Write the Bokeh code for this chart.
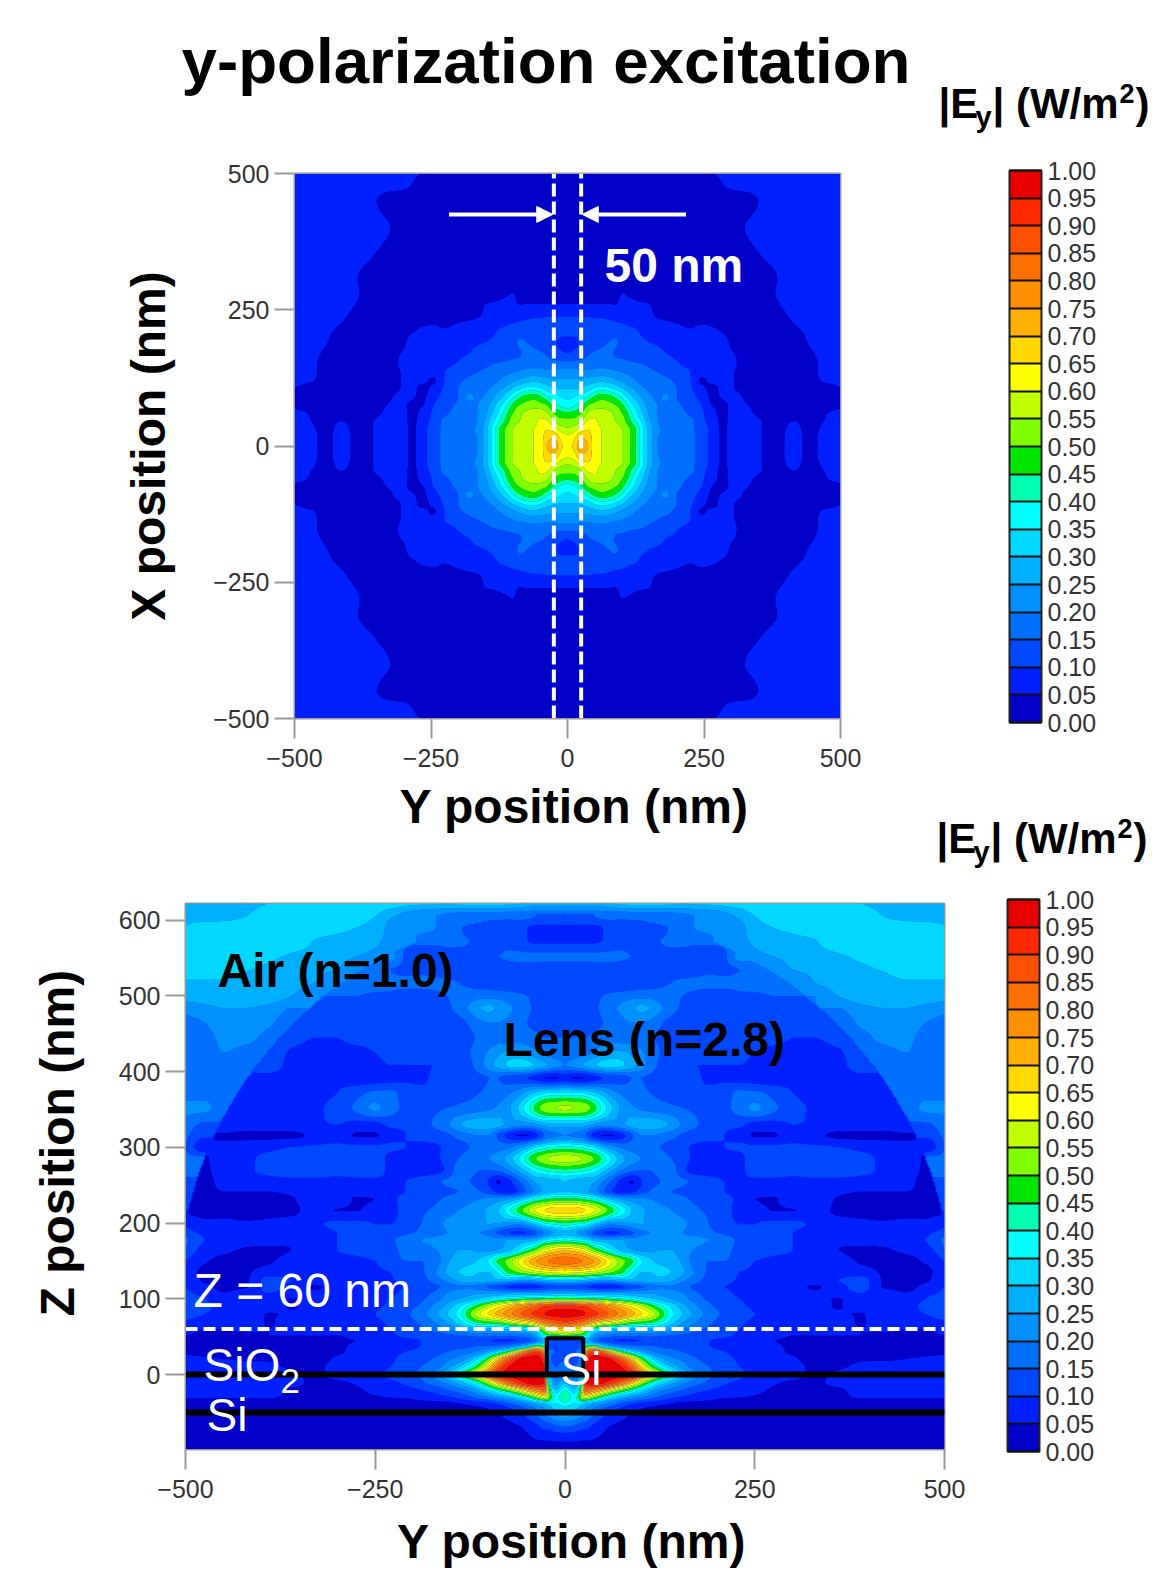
from bokeh.embed import file_html
from bokeh.resources import INLINE
from bokeh.plotting import figure
from bokeh.layouts import column
from bokeh.models import (Range1d, Label, ColorBar, LinearColorMapper, FixedTicker,
                          PrintfTickFormatter, Arrow, NormalHead)
import numpy as np

TITLE = "y-polarization excitation"
PALETTE = ["#0000C8", "#0020FF", "#0048FF", "#0070FF", "#0090FF", "#00B0FF", "#00D8FF", "#00FFFF",
           "#00FFB0", "#00E600", "#80FF00", "#C0FF00", "#FFFF00", "#FFD800", "#FFB000", "#FF9000",
           "#FF7000", "#FF5000", "#FF2800", "#E80000"]
LEVEL_TICKS = [i / 20 for i in range(21)]
XY_TICKS = [-500, -250, 0, 250, 500]
Z_TICKS = [-100, 0, 100, 200, 300, 400, 500, 600]
DOME_RADIUS = 510   # lens outline, nm
DOME_CENTRE_Z = 100

# Top map, one quadrant in percent of full scale; rows = |X| nm, columns = |Y| nm
TOP_Y = [0,12,25,38,50,62,75,88,100,112,125,138,150,165,180,200,225,245,265,285,305,330,355,385,415,440,470,500]
TOP_X = [0,15,30,45,60,75,90,105,120,135,150,170,190,215,240,260,280,310,350,400,450,475,500]
TOP_FIELD = [
[63,66,74,70,62,60,58,57,55,51,45,36,28,20,19,18,16,13,8,4,7,7,5,4,6.5,4,6,9],
[62,64,70,68,62,60,58,57,55,51,45,36,28,20,19,18,16,13,8,4,7,7,5,4,6.5,4,6,8.5],
[56,58,63,65,62,60,58,57,55,51,45,36,28,21,19,18,16,13,8,4,7,7,5,4,6,4,5.5,7],
[52,52,55,61,61,58,57,55,53,47,40,33,26,20,19,18,16,12,7,4,6.5,7,5,4,5,4,5,6],
[46,47,50,56,58,57,56,54,50,44,36,30,24,20,19,17,14,11,6,4.2,6,5.5,4,3.5,4,3.5,4.8,5.5],
[37,39,43,50,52,53,52,50,46,39,33,27,23,20,19,16,13,10,4.8,4.5,5.5,5,4,3.5,3.5,3,4,4.5],
[34,35,38,41,46,48,47,44,39,33,28,24,21,19,21,15,12,8,4.2,5.2,5.5,4.5,4,3.5,3.5,3,3.5,4],
[30,30,31,33,36,38,37,34,31,27,24,21,19,18,18,15,11,6,4.2,5.5,5,4,3.5,3,3,3,3.5,4.8],
[26,26,26,27,28,29,28,26,24,22,20,18,17,16.5,16,14,10,4.4,5.5,5.5,5,4,3.5,3,3,4,5.2,6],
[22,22,22,22,22,23,22,21,20,19,18,17,16,15,14,12.5,10,6,6,5.5,5,4,3,3,3,4,5.5,6.5],
[17,17,17,17,18,18,18,17,17,16,15.5,15,14,13,12,10.5,8.5,7,6,5.5,5.2,3.5,3,3,3,4,5.5,6.5],
[10,11,13,14.5,15.5,16,16,14.5,13.5,13,12.5,12,11.5,11,10,9,7.5,6.5,5.5,5.2,5,3.5,3,3,3,4.5,5.5,6],
[8,8.5,11,12.5,13,14,15,15.5,13,12,11,10.5,10,9.5,9,7.5,7,6.5,6.5,5.5,4.5,3.5,3,3,3,5,5.8,6],
[12.5,12.5,12.5,12.5,12.5,12.5,12.5,12,11.5,10.5,10,9,8,7.5,7,6,5,5.5,5.2,4.5,4,3.5,3,3,4.5,5.5,6,6.5],
[9.5,9.5,9.5,9.5,9,9,8.5,8,7.5,7,6.5,6,5.5,4.5,4,3.5,3.5,3.5,3.5,3,3,3,3,4,5.5,6,6.5,7],
[5,5,5,5,5,5,5,4.8,6,6,5.5,5.2,5,4,3.5,3,3,3,3,3,3,3,3,4.8,5.8,6,6.5,7],
[3.5,3.5,3.5,3.5,3.5,3.5,3.5,3.5,5,4.5,4,3.5,3.5,3,3,3,3,3,3,3,3,3,3,5.2,6,6,6.5,7],
[3,3,3,3,3,3,3,3,3,3,3,3,3,3,3,3,3,3,3,3,3,3,3.5,5,6,6,6.5,7],
[3,3,3,3,3,3,3,3,3,3,3,3,3,3,3,3,3,3,3,3,3,4,5,6,6.5,6.5,6.5,7],
[3,3,3,3,3,3,3,3,3,3,3,3,3,3,3,3,3,3,3,3,4,5.2,6,6.5,6.5,6.5,6.5,7],
[3,3,3,3,3,3,3,3,3,3,3,3,3,3,3,3,3,3,3,3.5,3.5,4,5.2,6,6.5,6.5,6.5,7],
[3,3,3,3,3,3,3,3,3,3,3,3,3,3,3,3,3,3,3.5,4.8,5.3,5.5,6,6.5,6.5,6.5,6.5,7],
[3,3,3,3,3,3,3,3,3,3,3,3,3,3,3,3,3,4,4.8,5.5,6,6,6.5,6.5,6.5,6.5,6.5,7],
]

# Bottom map, one half in percent of full scale; rows = Z nm, columns = |Y| nm
BOT_Y = [0,12,23,27,38,50,62,75,88,100,112,125,140,155,170,190,210,230,250,275,300,330,360,390,420,450,475,500]
BOT_Z = [-100,-85,-70,-60,-50,-40,-30,-20,-10,0,10,20,30,38,45,52,60,70,80,90,100,108,116,124,135,150,165,178,187,198,
         217,232,242,255,270,285,300,316,330,352,372,392,409,425,445,465,484,500,517,535,552,574,590,605,622]
BOT_FIELD = [
[2,2,2,2,2,2,2,2,2,2,2,2,2,2,2,2,2,2,2,2,2,2,2,2,2,2,2,2],
[6,6,5.5,5.5,5,4,3,3,3,3,3,3,3,3,3,3,3,3,3,3,3,3,3,3,3,3,3,3],
[14,13,11,11,8,6,4,3,3,3,3,3,3,3,3,3,3,3,3,3,3,3,3,3,3,3,3,3],
[22,20,17,16,12,9,7,5,4,3,3,3,3,3,3,3,3,3,3,3,3,3,3,3,3,3,3,3],
[30,28,24,22,17,12,9,7,5,4,3,3,3,3,3,3,3,3,3,3,3,3,3,3,3,3,3,3],
[36,34,30,28,24,20,16,12,9,7,6,5,4,3,3,3,3,3,3,3,3,3,3,3,3,3,3,3],
[45,38,55,60,52,42,34,28,24,20,17,14,11,9,8,6.5,5.2,5,4.5,4,3.5,3.5,4.2,5.2,5.2,5.2,5.2,5.2],
[40,30,60,85,80,72,62,52,44,36,29,22,18,15,12,10,8,7,6,4.5,4,4,4.5,6,6,6,6,6],
[28,22,50,95,99,97,92,84,72,58,46,36,28,22,18,14,11,9,7,5.5,4.5,4.5,6,7,7,7,7,7],
[22,18,30,96,99,99,98,97,95,82,68,55,42,30,22,16,13,11,9,7,6,4.5,5.5,7,7,7,7,7],
[17,15,22,95,99,99,98,95,85,68,52,40,30,23,18,15,12,10,9,7.5,6,4.5,4.5,6,7,7,7,7],
[15,14,18,90,98,98,95,85,70,52,38,28,22,19,16,13,11,9.5,8,7,5.5,4,4,4.5,4.5,5,5.5,6],
[15,15,16,75,90,82,65,48,36,28,22,18,17,15,13,11,10,9,7.5,6,4.5,4,3.5,3.5,4,4,4,4.5],
[14,14,15,42,48,32,24,18,16,15,15,14,13,12,11,10,9,8,7,5.5,4.5,4,3.5,3.5,3.5,3.5,3.5,4],
[12,12,16,28,18,12,10,9,9,10,11,12,12,12,11,10,9,8,6.5,5,4.5,4,4,4,3.5,3.5,3.5,4],
[50,48,45,42,26,20,18,17,17,17,17,16,15,14,13,12,11,9,7.5,6,5,5,5,5,4.5,4.5,4.5,5],
[70,66,60,56,42,35,32,30,29,28,28,27,24,20,17,14,12,10,8,6.5,6,6,6,5,5.5,5,5,6],
[90,88,84,82,74,68,64,58,52,50,48,42,33,26,21,16,13,11,9,7,6.5,6.5,7,4.5,8,8,8,9],
[97,97,96,95,92,88,83,78,72,66,60,50,37,30,24,18,14,12,10,8,7,7,6,4.5,9,9,10,13],
[92,92,90,90,85,80,76,70,64,58,50,42,34,27,22,16,13,11,9,7,6.5,7,4.5,9,9,9,11,14],
[48,48,47,47,46,45,43,41,38,34,31,28,25,22,18,14,12,10,8,6,5.5,6.5,4.5,9.5,8,8,10,13],
[26,26,25,25,24,24,24,24,24,24,24,23,22,20,16,13,11,9,7.5,6,6,5.5,8,10,7,5,8,11],
[13,12,11,10,8,6,6.5,9,12,14,17,19,19,17,14,12,10,9,7,6,6,4.5,8,12,4.5,4,6,10],
[30,30,29,28,25,23,24,27,28,27,27,28,26,21,17,13,11,9.5,7.5,6.5,6,7,10,12,4.5,4,4.5,9],
[62,61,60,59,57,54,50,46,36,30,30,31,30,26,20,14,12,10,9,7,7,8,8,7,4.5,4,4,8],
[83,82,80,79,75,68,60,52,46,36,31,29,28,24,18,15,15,13,10,9,9,9,7,4.5,4,4,5.5,10],
[68,66,62,60,50,42,34,28,25,24,24,25,25,22,20,17,16,14,13,11,10,9,5,4,4.5,6,8,14],
[40,38,36,35,28,26,25,25,22,23,24,24,24,23,22,20,18,14,13,12,10,8,6,7.5,7,8,10,16],
[28,26,22,20,14,10,9,10,14,18,20,21,22,20,18,16,14,11,10,11,10,8,8,8.5,8,8,9,12],
[42,40,38,37,30,24,20,22,24,25,24,23,22,21,18,15,12,10,10,11,11,9,7,6,5.5,6,6,9],
[68,68,66,65,61,54,46,38,30,26,24,22,20,18,16,14,11,9,7,4.8,4.8,7,4,4,4,4,4,10],
[46,46,44,43,40,34,28,24,22,21,20,18,17,16,14,12,11,9,5,4.5,8,8,4.5,3.5,3.5,3.5,3.5,12],
[30,29,28,27,22,16,10,7,8,12,15,16,15,14,12,11,10,8,7,7,7.5,7.5,6,5,5,5,4,12],
[30,29,28,27,26,20,14,8,4.5,9,14,15,17,16,14,12,10,9,8,8,8,8,7.5,7,6.5,6,4,14],
[44,43,42,41,38,32,26,20,16,15,15,16,17,11,8,7,7,8,14,14,12,15,15,12,9,7,4.5,16],
[58,57,55,54,50,43,34,27,22,20,19,18,15,12,9,7,7,8,14,13,12,15,15,12,9,8,4.5,16],
[42,41,40,38,35,28,23,19,18,18,17,15,13,11,9.5,9,10,11,11,11,11,11,10,8,7,6,6,15],
[20,19,17,15,8,4.5,4.5,8,14,20,20,19,17,14,12,11,10,8,4.5,4.5,8,6,4,4,4,4.5,11,16],
[28,28,28,27,24,22,22,24,27,28,28,27,24,19,16,13,11,11,8,8,10,9,7,7,7,8,14,18],
[56,55,54,53,47,38,30,24,21,19,18,17,16,15,14,13,14,17,21,16,12,9,7.5,8,9.5,18,21,21],
[36,35,35,34,31,27,22,19,17,16,15,14,13,12,11,11,13,16,16,13,10,8,8,8.5,10,17,19,19],
[7,4.5,4.5,5,8,10,12,13,15,15,14,13,12,11,10.5,9.5,9,8,7.5,7.5,9,8,8,9,16,19,19,19],
[20,22,25,26,29,32,33,31,27,23,18,14,11,10,10,10,10,10,9,9,10,9,9,12,18,17,16,16],
[17,17,18,18,21,24,26,26,24,21,18,15,12,11,11,12,12,11,10,9,9,9,9.5,12,19,20,17,16],
[15,15,15,15,16,17,18,18,18,17,16,14,12,11,11,11,11,11,11,11,10,10,11,19,21,21,18,16],
[13,13,13,13,14,15,17,19,20,20,19,16,13,11,10.5,10,10.5,11,11,11,10.5,11,17,21,23,23,20,18],
[12,12,13,13,14,16,19,21,24,26,25,21,17,14,12,11,11,11,12,12,11,13,20,24,25,25,24,22],
[13,13,13,13,14,15,16,17,18,18,18,17,16,15,14,13,13,14,14,15,15,20,25,27,27,27,27,27],
[13,13,13,13,12,12,12,12,12,13,13,14,15,16,16,16,16,16,17,17,22,25,27,28,28,29,29,29],
[13,13,13,13,13,13,13,13,12.5,12,12,12,12,12,13,14,14,15,16,22,25,26,28,29,30.5,33,33,33],
[16,16,16,16,16,16,16,15.5,15,15,14,14,13,13,12,11.5,14,22,24,25,27,29,29.5,31,33,33,33,33],
[9,9,9,9,9,10,12,13,13,13,15,15,16,16,16,19,24,24,26,28,29,30,32,33,33,33,33,33],
[9,9,9,9,9,10,12,10,12,10,13,11,16,19,20,21,22,23,29,30,31,32,33,33,33,33,33,31],
[15,15,15,15,15,16,16,17,17,17,17,17,18,19,20,21,23,26,30,31,32,33,33,33,30,28,27,27],
[27,27,27,27,27,28,30,31,32,32,32,32,31,30,30.5,31,32,33,33,33,33,33,32,30,28,27,26,26],
]


def monotone(x, f, xnew):
    """Shape-preserving cubic through table rows, so contours are not faceted; passes through every read value."""
    x = np.asarray(x, float)
    h = np.diff(x)[:, None]
    d = np.diff(f, axis=0) / h
    m = np.zeros_like(f)
    same = d[:-1] * d[1:] > 0
    w1 = 2 * h[1:] + h[:-1]
    w2 = h[1:] + 2 * h[:-1]
    with np.errstate(divide="ignore", invalid="ignore"):
        hm = (w1 + w2) / (w1 / d[:-1] + w2 / d[1:])
    m[1:-1] = np.where(same, hm, 0)
    m[0] = d[0]
    m[-1] = d[-1]
    i = np.clip(np.searchsorted(x, xnew, side="right") - 1, 0, len(x) - 2)
    t = ((xnew - x[i]) / (x[i + 1] - x[i]))[:, None]
    hh = (x[i + 1] - x[i])[:, None]
    return ((2*t**3 - 3*t**2 + 1) * f[i] + (t**3 - 2*t**2 + t) * hh * m[i]
            + (-2*t**3 + 3*t**2) * f[i + 1] + (t**3 - t**2) * hh * m[i + 1])


def refine(xs, rows, f, step):
    gx = np.arange(xs[0], xs[-1] + step / 2, step)
    gy = np.arange(rows[0], rows[-1] + step / 2, step)
    z = monotone(rows, f, gy)
    z = monotone(xs, z.T, gx).T
    return gx, gy, z


def unfold(cols, f):
    cols = np.array(cols, float)
    return np.concatenate([-cols[:0:-1], cols]), np.concatenate([f[:, :0:-1], f], axis=1)


def top_field():
    xs, f = unfold(TOP_Y, np.array(TOP_FIELD, float) / 100)
    rows = np.array(TOP_X, float)
    rows = np.concatenate([-rows[:0:-1], rows])
    f = np.concatenate([f[:0:-1], f], axis=0)
    gx, gy, z = refine(xs, rows, f, 3.0)
    return gx, gy, np.clip(z, 0.001, 0.999)


def bottom_field():
    """The table holds lens values inside the dome and air values outside: refine the two media apart,
    so that the jump between them stays a sharp edge as in the reference."""
    f = np.array(BOT_FIELD, float) / 100
    cols = np.array(BOT_Y, float)
    rows = np.array(BOT_Z, float)
    inside = np.hypot(cols[None, :], rows[:, None] - DOME_CENTRE_Z) <= DOME_RADIUS
    inside[rows < DOME_CENTRE_Z, :] = True
    lens, air = f.copy(), f.copy()
    for r in range(len(rows)):
        n = inside[r].sum()
        if 0 < n < len(cols):
            lens[r, n:] = f[r, n - 1]
            air[r, :n] = f[r, n]
    top_in = max(r for r in range(len(rows)) if inside[r].any())
    lens[top_in + 1:] = lens[top_in]
    first_air = min(r for r in range(len(rows)) if not inside[r].all())
    air[:first_air] = air[first_air]
    xs, lens = unfold(cols, lens)
    _, air = unfold(cols, air)
    gx, gy, zl = refine(xs, rows, lens, 2.0)
    _, _, za = refine(xs, rows, air, 2.0)
    gxx, gyy = np.meshgrid(gx, gy)
    mask = (np.hypot(gxx, gyy - DOME_CENTRE_Z) <= DOME_RADIUS) | (gyy < DOME_CENTRE_Z)
    return gx, gy, np.clip(np.where(mask, zl, za), 0.001, 0.999)


def base(w, h, xr, yr, left, right, top, bottom, xlabel, ylabel, xticks, yticks, xstand, ystand):
    p = figure(width=w, height=h, x_range=Range1d(*xr), y_range=Range1d(*yr),
               output_backend="svg", toolbar_location=None, frame_align=False,
               min_border_left=left, min_border_right=right, min_border_top=top, min_border_bottom=bottom)
    p.grid.visible = False
    p.outline_line_color = "#999999"
    p.outline_line_width = 2
    p.background_fill_color = "#0030FF"
    for ax, ticks, lab, st in ((p.xaxis[0], xticks, xlabel, xstand), (p.yaxis[0], yticks, ylabel, ystand)):
        ax.ticker = FixedTicker(ticks=ticks)
        ax.major_label_overrides = {t: (str(t) if t >= 0 else "\u2212" + str(-t)) for t in ticks}
        ax.axis_label = lab
        ax.axis_label_text_font = "Liberation Sans"
        ax.axis_label_text_font_style = "bold"
        ax.axis_label_text_font_size = "48px"
        ax.axis_label_text_color = "black"
        ax.axis_label_standoff = st
        ax.major_label_text_font = "Liberation Sans"
        ax.major_label_text_font_size = "25px"
        ax.major_label_text_color = "#333333"
        ax.axis_line_color = "#999999"
        ax.major_tick_line_color = "#999999"
        ax.major_tick_line_width = 2
        ax.major_tick_in = 0
        ax.major_tick_out = 20
        ax.minor_tick_line_color = None
    p.xaxis[0].major_label_standoff = 10
    p.yaxis[0].major_label_standoff = 5
    p.yaxis[0].major_label_orientation = "horizontal"
    return p


def colorbar(p, x, y):
    cm = LinearColorMapper(palette=PALETTE, low=0, high=1)
    cb = ColorBar(color_mapper=cm, ticker=FixedTicker(ticks=LEVEL_TICKS), formatter=PrintfTickFormatter(format="%.2f"),
                  width=32, height=552, location=(x, y), padding=0, margin=0,
                  bar_line_color="#222222", bar_line_width=2,
                  major_tick_line_color="#111111", major_tick_line_width=2, major_tick_in=32, major_tick_out=0,
                  minor_tick_line_color=None, label_standoff=6, background_fill_color=None, border_line_color=None,
                  major_label_text_font="Liberation Sans", major_label_text_font_size="25px",
                  major_label_text_color="#333333")
    p.add_layout(cb)


def put(p, tops, page_x, page_y, text, size, color="black", bold=True):
    """page_x/page_y in window pixels of the text's left baseline; tops = window y of this figure's top edge."""
    p.add_layout(Label(x=page_x, y=page_y - tops - 0.3 * size, x_units="canvas", y_units="canvas",
                       text=text, text_font="Liberation Sans", text_font_size=f"{size}px",
                       text_font_style="bold" if bold else "normal", text_color=color,
                       text_baseline="alphabetic", text_align="left"))


def header(h):
    p = figure(width=1152, height=h, x_range=Range1d(0, 1152), y_range=Range1d(h, 0),
               output_backend="svg", toolbar_location=None, frame_align=False,
               min_border=0, outline_line_color=None, x_axis_location=None, y_axis_location=None,
               border_fill_color=None, background_fill_color=None)
    p.grid.visible = False
    return p


def unit_heading(p, dx, base_y):
    put(p, 0, 938 + dx, base_y, "|E", 42)
    put(p, 0, 975 + dx, base_y + 9, "y", 29)
    put(p, 0, 992 + dx, base_y, "| (W/m", 42)
    put(p, 0, 1119 + dx, base_y - 15, "2", 27)
    put(p, 0, 1135 + dx, base_y, ")", 42)


# ---------- header of the top map ----------
H1 = 140
h1 = header(H1)
put(h1, 0, 181, 79, TITLE, 63.7)
unit_heading(h1, 0, 116)

# ---------- top map ----------
F1L, F1R, F1T, F1B = 294, 840, 173, 718
P1_END = 842
p1 = base(1152, P1_END - H1, (-500, 500), (-500, 500), F1L, 1152 - F1R, F1T - H1, P1_END - F1B,
          "\u00a0Y position (nm)", "X position (nm)", XY_TICKS, XY_TICKS, 10, 35)
gx, gy, z = top_field()
p1.contour(gx, gy, z, LEVEL_TICKS, fill_color=PALETTE)

for sx in (-25, 25):
    p1.line([sx, sx], [-500, 500], line_color="white", line_width=4, line_dash="13 5")
for a, b in ((-217, -27), (217, 27)):
    p1.add_layout(Arrow(end=NormalHead(size=16, fill_color="white", line_color="white"),
                        x_start=a, x_end=b, y_start=425, y_end=425, line_color="white", line_width=4))
put(p1, H1, 604, 279, "50 nm", 48, "white")
colorbar(p1, 1009 - F1L, F1B - 722)

# ---------- header of the bottom map (overlaps the empty right end of the top map's lower border) ----------
H2_TOP = 808
H2 = 62
h2 = header(H2)
h2.margin = (H2_TOP - P1_END, 0, 0, 0)
unit_heading(h2, -2, 851 - H2_TOP)

# ---------- bottom map ----------
T2 = H2_TOP + H2
F2L, F2R, F2T, F2B = 185, 944, 903, 1449
p2 = base(1152, 1576 - T2, (-500, 500), (-99, 622), F2L, 1152 - F2R, F2T - T2, 1576 - F2B,
          "\u00a0Y position (nm)", "\u00a0" * 5 + "Z position (nm)", XY_TICKS, Z_TICKS, 14, 32)
gx, gy, z = bottom_field()
p2.contour(gx, gy, z, LEVEL_TICKS, fill_color=PALETTE)

p2.line([-500, 500], [60, 60], line_color="white", line_width=4, line_dash="12 6")
p2.line([-500, 500], [0, 0], line_color="black", line_width=6)
p2.line([-500, 500], [-50, -50], line_color="black", line_width=6)
p2.line([-24, -24, 24, 24], [0, 48, 48, 0], line_color="black", line_width=4)
put(p2, T2, 217, 984, "Air (n=1.0)", 48)
put(p2, T2, 503, 1053, "Lens (n=2.8)", 48)
put(p2, T2, 193, 1304, "Z = 60 nm", 48, "white", False)
put(p2, T2, 203, 1378, "SiO", 46, "white", False)
put(p2, T2, 280, 1391, "2", 35, "white", False)
put(p2, T2, 206, 1428, "Si", 46, "white", False)
put(p2, T2, 560, 1382, "Si", 46, "white", False)
colorbar(p2, 1007 - F2L, F2B - 1451)

page = column(h1, p1, h2, p2, spacing=0)
open("out.html", "w").write(file_html(page, INLINE))
